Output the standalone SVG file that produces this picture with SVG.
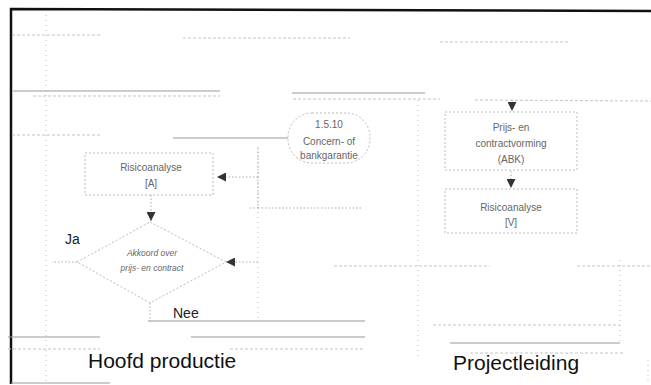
<svg xmlns="http://www.w3.org/2000/svg" width="651" height="385" viewBox="0 0 651 385">
<style>
.frame{stroke:#111;stroke-width:2.5;fill:none}
.lane{stroke:#999;stroke-width:1;fill:none}
.lanef{stroke:#c4c4c4;stroke-width:1;stroke-dasharray:3 2;fill:none}
.vdot{stroke:#bbb;stroke-width:1;stroke-dasharray:1 4;fill:none}
.node{fill:#fff;stroke:#bbb;stroke-width:1;stroke-dasharray:2 2}
.conn{stroke:#aaa;stroke-width:1;stroke-dasharray:1.5 2;fill:none}
.t{font-family:"Liberation Sans",Arial,sans-serif;font-size:10px;fill:#666;text-anchor:middle}
.ti{font-family:"Liberation Sans",Arial,sans-serif;font-size:8.5px;fill:#666;text-anchor:middle;font-style:italic}
.lbl{font-family:"Liberation Sans",Arial,sans-serif;font-size:14px;fill:#222}
.big{font-family:"Liberation Sans",Arial,sans-serif;font-size:21px;fill:#111}
</style>
<defs>
<marker id="ah" viewBox="0 0 10 10" refX="10" refY="5" markerWidth="9" markerHeight="9" orient="auto" markerUnits="userSpaceOnUse">
<path d="M0,0 L10,5 L0,10 z" fill="#333"/>
</marker>
</defs>
<rect x="0" y="0" width="651" height="385" fill="#fff"/>
<g id="frame">
<path class="frame" d="M11,384 L11,9 L651,11"/>
<path class="lane" d="M11,383 L110,383"/>
</g>
<g id="lanes">
<path class="lanef" d="M12,35 L100,35 M183,38 L350,38 M440,42 L570,42"/>
<path class="lane" d="M13,91 L220,91 M292,93 L425,93"/>
<path class="lanef" d="M33,96 L220,96 M293,99 L440,99 M475,100 L651,101"/>
<path class="lanef" d="M12,135 L100,135"/>
<path class="lane" d="M173,138 L288,138"/>
<path class="lanef" d="M334,266 L490,266 M577,266 L651,266"/>
<path class="lane" d="M148,321 L365,321"/>
<path class="lanef" d="M433,325 L620,325"/>
<path class="lane" d="M8,337 L100,337 M191,337 L365,337 M450,343 L620,343"/>
<path class="lanef" d="M8,349 L100,349 M230,349 L365,349 M470,353 L625,353"/>
<path class="vdot" d="M46,15 L46,383 M418,100 L418,360 M258,147 L258,320 M620,260 L620,345 M648,360 L648,385"/>
</g>
<g id="connectors">
<path class="conn" d="M258,148 L258,208 L250,208 M258,208 L362,208"/>
<path class="conn" d="M258,177 L217,177" marker-end="url(#ah)"/>
<path class="conn" d="M151,195 L151,221" marker-end="url(#ah)"/>
<path class="conn" d="M258,262 L226,262" marker-end="url(#ah)"/>
<path class="conn" d="M77,262 L52,262"/>
<path class="conn" d="M150,303 L150,321"/>
<path class="conn" d="M512,100 L512,111" marker-end="url(#ah)"/>
<path class="conn" d="M511,171 L511,188" marker-end="url(#ah)"/>
</g>
<g id="risicoanalyse-a">
<rect class="node" x="85" y="153" width="128" height="42"/>
<text class="t" x="151" y="171">Risicoanalyse</text>
<text class="t" x="151" y="187">[A]</text>
</g>
<g id="akkoord">
<polygon class="node" points="150,222 226,262 150,303 77,262"/>
<text class="ti" x="152" y="256">Akkoord over</text>
<text class="ti" x="152" y="271">prijs- en contract</text>
</g>
<g id="concern">
<rect class="node" x="288" y="113" width="82" height="50" rx="24" ry="24"/>
<text class="t" x="329" y="128" font-size="9">1.5.10</text>
<text class="t" x="329" y="145">Concern- of</text>
<text class="t" x="329" y="159">bankgarantie</text>
</g>
<g id="prijs">
<rect class="node" x="445" y="112" width="132" height="58"/>
<text class="t" x="511" y="131">Prijs- en</text>
<text class="t" x="511" y="147">contractvorming</text>
<text class="t" x="511" y="163">(ABK)</text>
</g>
<g id="risicoanalyse-v">
<rect class="node" x="445" y="189" width="132" height="44"/>
<text class="t" x="511" y="211">Risicoanalyse</text>
<text class="t" x="511" y="226">[V]</text>
</g>
<g id="labels">
<text class="lbl" x="65" y="244">Ja</text>
<text class="lbl" x="173" y="318">Nee</text>
<text class="big" x="88" y="368">Hoofd productie</text>
<text class="big" x="453" y="370">Projectleiding</text>
</g>
</svg>
